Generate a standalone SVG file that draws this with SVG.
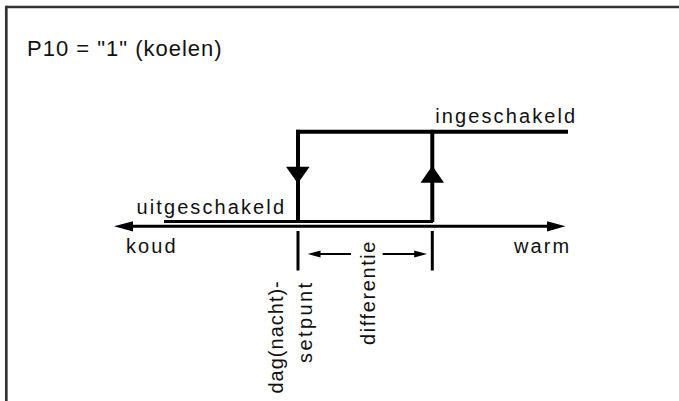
<svg xmlns="http://www.w3.org/2000/svg" width="679" height="401" viewBox="0 0 679 401">
  <style>
    .frame { stroke: #333; stroke-width: 2.7; fill: none; }
    .loop { stroke: #000; stroke-width: 4; fill: none; stroke-linecap: square; }
    .thin { stroke: #000; stroke-width: 3; fill: none; }
    .dim { stroke: #000; stroke-width: 2; fill: none; }
    .head { fill: #000; stroke: none; }
    .lbl { font-family: "Liberation Sans", Arial, sans-serif; font-size: 20px; fill: #111; letter-spacing: 2.1px; }
    .vlbl { font-family: "Liberation Sans", Arial, sans-serif; font-size: 20px; fill: #111; }
    .title { font-family: "Liberation Sans", Arial, sans-serif; font-size: 22px; fill: #111; letter-spacing: 1px; }
  </style>
  <rect x="0" y="0" width="679" height="401" fill="#fff"/>
  <g id="frame">
    <line class="frame" x1="6.3" y1="7" x2="679" y2="7"/>
    <line class="frame" x1="6.3" y1="5.7" x2="6.3" y2="401"/>
  </g>
  <g id="title">
    <text class="title" x="27" y="56">P10 = "1" (koelen)</text>
  </g>
  <g id="connectors">
    <line class="thin" x1="164" y1="221.5" x2="433" y2="221.5"/>
    <line class="loop" x1="298" y1="131.8" x2="298" y2="220"/>
    <line class="loop" x1="298" y1="131.8" x2="566" y2="131.8"/>
    <line class="loop" x1="432.3" y1="131.8" x2="432.3" y2="220"/>
    <polygon class="head" points="286,166.7 309.6,166.7 297.8,183.6"/>
    <polygon class="head" points="420.5,182.7 444,182.7 432.3,165.7"/>
    <line class="thin" x1="130" y1="226.3" x2="550" y2="226.3"/>
    <polygon class="head" points="114,226.3 133,221.2 133,231.4"/>
    <polygon class="head" points="565.5,226.3 547,221.2 547,231.4"/>
    <line class="thin" x1="298" y1="231" x2="298" y2="270.5"/>
    <line class="thin" x1="432.3" y1="231" x2="432.3" y2="270.5"/>
    <line class="dim" x1="318" y1="254" x2="351" y2="254"/>
    <polygon class="head" points="307.7,254 320.5,250.6 320.5,257.4"/>
    <line class="dim" x1="382.7" y1="254" x2="416" y2="254"/>
    <polygon class="head" points="427,254 414.2,250.6 414.2,257.4"/>
  </g>
  <g id="labels">
    <text class="lbl" x="136.5" y="214">uitgeschakeld</text>
    <text class="lbl" x="435.3" y="122.5">ingeschakeld</text>
    <text class="lbl" x="126" y="252.5">koud</text>
    <text class="lbl" x="514" y="252.5">warm</text>
    <text class="vlbl" transform="translate(283,393.5) rotate(-90)" letter-spacing="1">dag(nacht)-</text>
    <text class="vlbl" transform="translate(311.5,363) rotate(-90)" letter-spacing="2.4">setpunt</text>
    <text class="vlbl" transform="translate(374.5,345) rotate(-90)" letter-spacing="1.6">differentie</text>
  </g>
</svg>
